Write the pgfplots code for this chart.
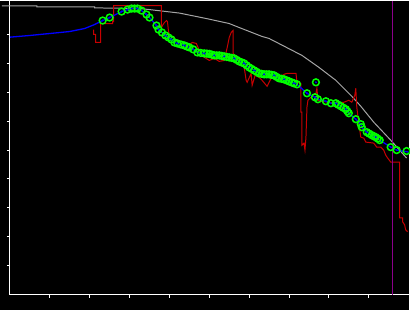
\documentclass[border=0pt]{standalone}
\usepackage{pgfplots}
\pgfplotsset{compat=1.18}
\definecolor{gcurve}{RGB}{165,165,165}
\definecolor{rline}{RGB}{200,0,0}
\definecolor{gcirc}{RGB}{0,255,0}
\definecolor{bline}{RGB}{0,0,255}
\definecolor{pline}{RGB}{140,0,140}
\begin{document}
\begin{tikzpicture}
\fill[black] (-10pt,-15pt) rectangle (400pt,295pt);
\begin{axis}[
  at={(0pt,0pt)}, anchor=south west,
  scale only axis, width=400pt, height=295pt,
  xmin=0, xmax=10, ymin=0, ymax=10.1724,
  clip=false,
  axis x line=bottom, axis y line=left,
  axis line style={white, line width=1pt, -},
  xtick={1,2,3,4,5,6,7,8,9}, ytick={1,2,3,4,5,6,7,8,9},
  xticklabels={}, yticklabels={},
  tick align=outside, major tick length=3pt,
  tick style={white, line width=1pt},
]
% gray envelope
\addplot[gcurve, line width=1pt, mark=none] coordinates {
(-0.2,9.99)(0.675,9.99)(0.675,9.955)(2.125,9.955)(2.125,9.92)(3.25,9.90)
(3.825,9.81)(4.25,9.741)(4.925,9.552)(5.5,9.379)(5.75,9.241)(6.325,8.931)
(6.5,8.862)(7.325,8.276)(7.75,7.862)(8.175,7.414)(8.575,6.862)(8.8,6.517)
(9.125,5.966)(9.55,5.345)(9.95,4.724)};
% red line
\addplot[rline, line width=1pt, mark=none] coordinates {
(2.1,9.172)(2.1,9.0)(2.15,9.0)(2.15,8.724)(2.275,8.724)(2.275,9.379)(2.575,9.379)
(2.575,9.448)(2.6,9.448)(2.6,10.0)(3.8,10.0)(3.8,9.241)(3.825,9.310)(3.875,9.414)
(3.925,9.483)(3.95,9.448)(3.975,9.138)(4.0,8.966)(4.125,8.862)(4.25,8.724)
(4.375,8.621)(4.5,8.655)(4.575,8.724)(4.675,8.690)(4.75,8.448)(4.875,8.207)
(5.0,8.103)(5.125,8.172)(5.25,8.069)(5.375,8.103)(5.45,8.552)(5.5,8.897)
(5.55,9.069)(5.6,9.138)(5.6,8.345)(5.7,8.172)(5.825,7.931)(5.875,7.862)
(5.925,7.414)(5.95,7.345)(6.05,7.655)(6.075,7.241)(6.15,7.586)(6.25,7.517)
(6.325,7.414)(6.45,7.207)(6.55,7.483)(6.675,7.517)(6.8,7.552)(6.875,7.621)
(6.95,7.655)(7.175,7.655)(7.2,7.345)(7.3,7.310)(7.3,6.310)(7.325,6.310)
(7.325,5.172)(7.375,5.241)(7.4,5.0)(7.425,5.448)(7.45,6.483)(7.475,6.724)
(7.55,6.828)(7.675,6.966)(7.7,7.138)(7.725,6.724)(7.8,6.690)(8.0,6.655)
(8.175,6.621)(8.375,6.655)(8.5,6.724)(8.575,6.655)(8.65,6.897)(8.675,7.138)
(8.7,6.483)(8.75,5.931)(8.8,5.448)(8.875,5.414)(8.925,5.276)(9.125,5.241)
(9.2,5.103)(9.3,5.103)(9.375,5.0)(9.425,4.828)(9.475,4.724)(9.55,4.586)
(9.775,4.586)(9.775,2.655)(9.85,2.655)(9.85,2.517)(9.9,2.414)(9.925,2.241)(9.975,2.172)};
% blue line
\addplot[bline, line width=1.3pt, mark=none] coordinates {
(0,8.907)(0.5,8.966)(1.0,9.034)(1.5,9.103)(1.875,9.207)(2.125,9.345)(2.325,9.483)
(2.5,9.586)(2.8,9.793)(2.95,9.862)(3.05,9.897)(3.15,9.914)(3.25,9.879)(3.3,9.828)
(3.425,9.69)(3.5,9.586)(3.675,9.310)(3.725,9.172)(3.9,8.966)(4.05,8.828)(4.125,8.724)
(4.2,8.690)(4.375,8.621)(4.5,8.552)(4.6,8.483)(4.7,8.379)(4.875,8.345)(5.0,8.328)
(5.125,8.276)(5.25,8.276)(5.375,8.241)(5.5,8.207)(5.625,8.172)(5.75,8.069)(5.875,8.0)
(6.0,7.862)(6.125,7.759)(6.25,7.655)(6.375,7.621)(6.5,7.621)(6.625,7.586)(6.75,7.483)
(6.875,7.448)(7.0,7.379)(7.125,7.310)(7.2,7.276)(7.45,6.966)(7.65,6.828)(7.725,6.759)
(7.925,6.690)(8.05,6.621)(8.175,6.621)(8.3,6.517)(8.425,6.414)(8.5,6.276)(8.675,6.069)
(8.8,5.897)(8.825,5.793)(8.95,5.621)(9.075,5.517)(9.175,5.448)(9.275,5.345)(9.55,5.103)
(9.7,5.0)(10.0,4.931)};
% green circles with blue centre dots
\addplot[only marks, mark=o, mark size=3.4pt, mark options={gcirc, line width=1.5pt}] coordinates {
(2.325,9.483)(2.5,9.586)(2.8,9.793)(2.95,9.862)(3.05,9.897)(3.125,9.897)(3.2,9.897)
(3.3,9.828)(3.425,9.69)(3.5,9.586)(3.675,9.310)(3.725,9.172)(3.8125,9.069)(3.9,8.966)
(3.975,8.897)(4.05,8.828)(4.125,8.724)(4.2,8.690)(4.2875,8.655)(4.375,8.621)(4.4375,8.586)
(4.5,8.552)(4.6,8.483)(4.7,8.379)(4.7875,8.362)(4.875,8.345)(4.9375,8.338)(5.0,8.328)
(5.0625,8.303)(5.125,8.276)(5.1875,8.276)(5.25,8.276)(5.3125,8.259)(5.375,8.241)
(5.4375,8.224)(5.5,8.207)(5.5625,8.190)(5.625,8.172)(5.6875,8.121)(5.75,8.069)
(5.8125,8.034)(5.875,8.0)(5.9375,7.931)(6.0,7.862)(6.0625,7.810)(6.125,7.759)
(6.1875,7.707)(6.25,7.655)(6.3125,7.638)(6.375,7.621)(6.4375,7.621)(6.5,7.621)
(6.5625,7.603)(6.625,7.586)(6.6875,7.534)(6.75,7.483)(6.8125,7.466)(6.875,7.448)
(6.9375,7.414)(7.0,7.379)(7.0625,7.345)(7.125,7.310)(7.2,7.276)(7.675,7.345)
(7.45,6.966)(7.65,6.828)(7.725,6.759)(7.925,6.690)(8.05,6.621)(8.175,6.621)
(8.2375,6.569)(8.3,6.517)(8.3625,6.466)(8.425,6.414)(8.4625,6.345)(8.5,6.276)
(8.675,6.069)(8.8,5.897)(8.825,5.793)(8.95,5.621)(9.0125,5.569)(9.075,5.517)
(9.125,5.483)(9.175,5.448)(9.225,5.397)(9.275,5.345)(9.55,5.103)(9.7,5.0)(9.95,4.966)};
\addplot[only marks, mark=*, mark size=0.8pt, mark options={bline, draw=bline}] coordinates {
(2.325,9.483)(2.5,9.586)(2.8,9.793)(2.95,9.862)(3.05,9.897)(3.2,9.897)
(3.425,9.69)(3.675,9.310)(3.725,9.172)(3.9,8.966)(4.05,8.828)(4.2,8.690)(4.375,8.621)
(4.6,8.483)(4.875,8.345)(5.125,8.276)(5.375,8.241)(5.625,8.172)(5.875,8.0)(6.125,7.759)
(6.375,7.621)(6.625,7.586)(6.875,7.448)(7.125,7.310)(7.675,7.345)(7.45,6.966)(7.65,6.828)
(7.925,6.690)(8.175,6.621)(8.425,6.414)(8.675,6.069)(8.95,5.621)(9.175,5.448)(9.55,5.103)
(9.7,5.0)};
% purple vertical line
\addplot[pline, line width=1.2pt, mark=none] coordinates {(9.6,0)(9.6,10.1724)};
\end{axis}
\end{tikzpicture}
\end{document}
